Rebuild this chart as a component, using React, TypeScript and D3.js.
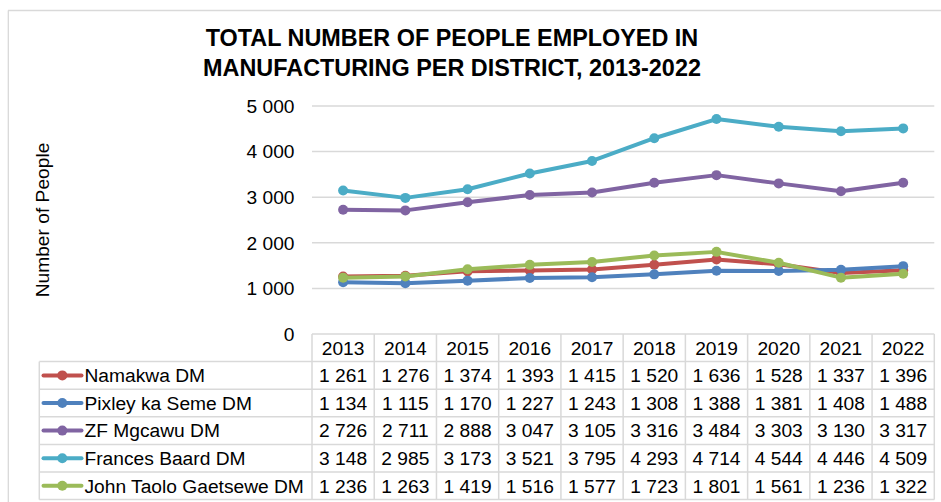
import React from "react";
import * as d3 from "d3";

const years = ["2013", "2014", "2015", "2016", "2017", "2018", "2019", "2020", "2021", "2022"];
const seriesNames = ["Namakwa DM", "Pixley ka Seme DM", "ZF Mgcawu DM", "Frances Baard DM", "John Taolo Gaetsewe DM"];
const namakwa = [1261, 1276, 1374, 1393, 1415, 1520, 1636, 1528, 1337, 1396];
const pixley = [1134, 1115, 1170, 1227, 1243, 1308, 1388, 1381, 1408, 1488];
const zfMgcawu = [2726, 2711, 2888, 3047, 3105, 3316, 3484, 3303, 3130, 3317];
const francesBaard = [3148, 2985, 3173, 3521, 3795, 4293, 4714, 4544, 4446, 4509];
const johnTaolo = [1236, 1263, 1419, 1516, 1577, 1723, 1801, 1561, 1236, 1322];
const yTicks = [0, 1000, 2000, 3000, 4000, 5000];
const colors = ["#C0504D", "#4F81BD", "#8064A2", "#4BACC6", "#9BBB59"];
const titleLines = ["TOTAL NUMBER OF PEOPLE EMPLOYED IN", "MANUFACTURING PER DISTRICT, 2013-2022"];
const yAxisTitle = "Number of People";

const seriesValues = [namakwa, pixley, zfMgcawu, francesBaard, johnTaolo];

const W = 941;
const H = 502;
const plotLeft = 312;
const plotRight = 934.3;
const yTop = 106;
const yBottom = 334;
const legendLeft = 39.3;
const rowH = 27.6;
const font = "Arial, 'Liberation Sans', sans-serif";
const gridColor = "#d9d9d9";

const fmt = (v: number) => {
  const s = String(v);
  return s.replace(/\B(?=(\d{3})+(?!\d))/g, " ");
};

export default function App() {
  const x = d3.scaleBand<string>().domain(years).range([plotLeft, plotRight]).padding(0);
  const y = d3.scaleLinear().domain([0, 5000]).range([yBottom, yTop]);
  const line = d3
    .line<number>()
    .x((_, i) => (x(years[i]) as number) + x.bandwidth() / 2)
    .y((d) => y(d));

  const tableTop = yBottom;
  const nRows = seriesNames.length + 1;
  const tableBottom = tableTop + nRows * rowH;
  const fs = 19.2;
  const dy = 6.8;

  return (
    <svg
      width={W}
      height={H}
      style={{ position: "absolute", left: 0, top: 0, display: "block", background: "#fff" }}
      fontFamily={font}
    >
      <rect x={0} y={0} width={W} height={H} fill="#fff" />
      {/* chart frame */}
      <line x1={8} y1={10.5} x2={W} y2={10.5} stroke={gridColor} strokeWidth={1.3} />
      <line x1={8.3} y1={10.5} x2={8.3} y2={H} stroke={gridColor} strokeWidth={1.3} />

      {/* title */}
      {titleLines.map((t, i) => (
        <text
          key={i}
          x={452}
          y={46 + i * 30}
          textAnchor="middle"
          fontSize={23.4}
          fontWeight="bold"
          fill="#000"
        >
          {t}
        </text>
      ))}

      {/* grid lines */}
      {yTicks.filter((t) => t > 0).map((t) => (
        <line key={t} x1={plotLeft} x2={plotRight} y1={y(t)} y2={y(t)} stroke={gridColor} strokeWidth={1.5} />
      ))}
      {/* y tick labels */}
      {yTicks.map((t) => (
        <text key={t} x={294.5} y={y(t) + dy} textAnchor="end" fontSize={fs} fill="#000">
          {fmt(t)}
        </text>
      ))}
      {/* y axis title */}
      <text
        transform={`translate(49, 220) rotate(-90)`}
        textAnchor="middle"
        fontSize={fs}
        fill="#000"
      >
        {yAxisTitle}
      </text>

      {/* series */}
      {seriesValues.map((vals, si) => (
        <g key={si}>
          <path d={line(vals) as string} fill="none" stroke={colors[si]} strokeWidth={4} strokeLinejoin="round" strokeLinecap="round" />
          {vals.map((v, i) => (
            <circle key={i} cx={(x(years[i]) as number) + x.bandwidth() / 2} cy={y(v)} r={5} fill={colors[si]} />
          ))}
        </g>
      ))}

      {/* data table */}
      <g stroke={gridColor} strokeWidth={1.5}>
        <line x1={plotLeft} x2={plotRight} y1={tableTop} y2={tableTop} />
        {d3.range(1, nRows + 1).map((r) => (
          <line key={r} x1={legendLeft} x2={plotRight} y1={tableTop + r * rowH} y2={tableTop + r * rowH} />
        ))}
        <line x1={legendLeft} x2={legendLeft} y1={tableTop + rowH} y2={tableBottom} />
        {years.map((yr) => (
          <line key={yr} x1={x(yr) as number} x2={x(yr) as number} y1={tableTop} y2={tableBottom} />
        ))}
        <line x1={plotRight} x2={plotRight} y1={tableTop} y2={tableBottom} />
      </g>
      {/* header years */}
      {years.map((yr) => (
        <text
          key={yr}
          x={(x(yr) as number) + x.bandwidth() / 2}
          y={tableTop + rowH / 2 + dy}
          textAnchor="middle"
          fontSize={fs}
          fill="#000"
        >
          {yr}
        </text>
      ))}
      {/* rows */}
      {seriesNames.map((name, si) => {
        const cy = tableTop + (si + 1) * rowH + rowH / 2;
        return (
          <g key={name}>
            <line x1={43.5} x2={81.5} y1={cy} y2={cy} stroke={colors[si]} strokeWidth={4} strokeLinecap="round" />
            <circle cx={62.3} cy={cy} r={5} fill={colors[si]} />
            <text x={84.5} y={cy + dy} fontSize={fs} fill="#000">
              {name}
            </text>
            {seriesValues[si].map((v, i) => (
              <text
                key={i}
                x={(x(years[i]) as number) + x.bandwidth() / 2}
                y={cy + dy}
                textAnchor="middle"
                fontSize={fs}
                fill="#000"
              >
                {fmt(v)}
              </text>
            ))}
          </g>
        );
      })}
    </svg>
  );
}
